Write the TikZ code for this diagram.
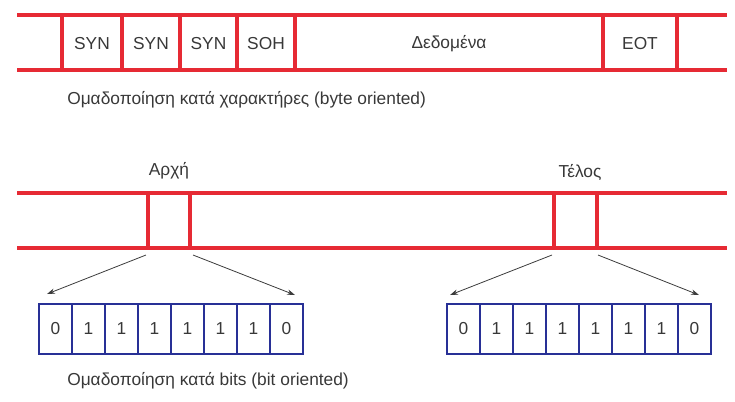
\documentclass[tikz,border=0pt]{standalone}
\usepackage{fontspec}
\setmainfont{Liberation Sans}
\usetikzlibrary{arrows.meta}
\definecolor{frameRed}{RGB}{230,42,52}
\definecolor{bitBlue}{RGB}{40,48,150}
\definecolor{arrowGray}{RGB}{60,60,60}
\tikzset{
  redline/.style={draw=frameRed, line width=2.3pt},
  lbl/.style={inner sep=0.75pt, font=\fontsize{13}{15}\selectfont, text=black!78},
  bit/.style={draw=bitBlue, line width=2pt, minimum width=24.75pt, minimum height=37.5pt, inner sep=0pt, font=\fontsize{13}{15}\selectfont, text=black!78},
  zoomarrow/.style={draw=arrowGray, line width=0.6pt, -{Stealth[length=6pt,width=4pt]}}
}
\begin{document}
\begin{tikzpicture}[x=0.75pt,y=0.75pt,yscale=-1,xscale=1]
\useasboundingbox (0,0) rectangle (735,401);

%Byte oriented frame
\draw [redline] (17,15) -- (727,15) ;
\draw [redline] (17,70) -- (727,70) ;
\foreach \x in {62,122,180,237,295,603,677}
  \draw [redline] (\x,15) -- (\x,70) ;

% Text Node
\node [lbl] (syn1) at (92,44) {SYN};
\node [lbl] (syn2) at (151,44) {SYN};
\node [lbl] (syn3) at (208.5,44) {SYN};
\node [lbl] (soh) at (266,44) {SOH};
\node [lbl] (data) at (449,44) {Δεδομένα};
\node [lbl] (eot) at (640,44) {EOT};
\node [lbl, anchor=west] (capbyte) at (66,100) {Ομαδοποίηση κατά χαρακτήρες (byte oriented)};

%Bit oriented frame
\draw [redline] (17,193) -- (727,193) ;
\draw [redline] (17,248) -- (727,248) ;
\foreach \x in {148,190,554,597}
  \draw [redline] (\x,193) -- (\x,248) ;

% Text Node
\node [lbl] (start) at (169,171) {Αρχή};
\node [lbl] (end) at (580,172) {Τέλος};

%Flag bytes
\foreach \b [count=\i] in {0,1,1,1,1,1,1,0} {
  \node [bit] (a\i) at ({22.5+33*\i},329) {\b};
  \node [bit] (t\i) at ({430.5+33*\i},329) {\b};
}

%Arrows
\coordinate (as1) at (146,255);
\coordinate (as2) at (193,255);
\coordinate (ts1) at (552,255);
\coordinate (ts2) at (598,255);
\coordinate (ae1) at (47,294);
\coordinate (ae2) at (295,295);
\coordinate (te1) at (450,295);
\coordinate (te2) at (699,295);
\draw [zoomarrow] (as1) -- (ae1) ;
\draw [zoomarrow] (as2) -- (ae2) ;
\draw [zoomarrow] (ts1) -- (te1) ;
\draw [zoomarrow] (ts2) -- (te2) ;

% Text Node
\node [lbl, anchor=west] (capbit) at (66,381) {Ομαδοποίηση κατά bits (bit oriented)};

\end{tikzpicture}
\end{document}
